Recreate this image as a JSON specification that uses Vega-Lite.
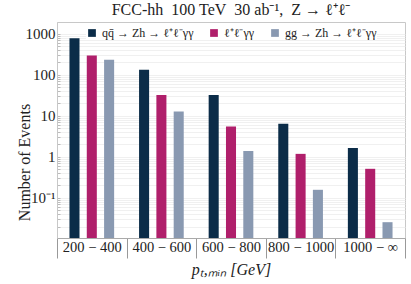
{
  "$schema": "https://vega.github.io/schema/vega-lite/v6.json",
  "autosize": {"type": "none"},
  "padding": {"left": 57, "top": 22, "right": 6, "bottom": 46},
  "width": 348,
  "height": 216,
  "title": {"text": "FCC-hh\u2002100 TeV\u200230 ab⁻¹,\u2002Z → ℓ⁺ℓ⁻", "font": "Liberation Serif", "fontSize": 16, "fontWeight": "normal", "color": "#222", "offset": 4},
  "config": {
    "view": {"stroke": "#c8c8c8"},
    "font": "Liberation Serif"
  },
  "data": {
    "values": [
      {"range": "200 − 400", "process": "A", "events": 780},
      {"range": "200 − 400", "process": "B", "events": 295},
      {"range": "200 − 400", "process": "C", "events": 232},
      {"range": "400 − 600", "process": "A", "events": 132},
      {"range": "400 − 600", "process": "B", "events": 32},
      {"range": "400 − 600", "process": "C", "events": 12.7},
      {"range": "600 − 800", "process": "A", "events": 32},
      {"range": "600 − 800", "process": "B", "events": 5.5},
      {"range": "600 − 800", "process": "C", "events": 1.38},
      {"range": "800 − 1000", "process": "A", "events": 6.4},
      {"range": "800 − 1000", "process": "B", "events": 1.18},
      {"range": "800 − 1000", "process": "C", "events": 0.157},
      {"range": "1000 − ∞", "process": "A", "events": 1.63},
      {"range": "1000 − ∞", "process": "B", "events": 0.51},
      {"range": "1000 − ∞", "process": "C", "events": 0.0255}
    ]
  },
  "mark": {"type": "bar"},
  "encoding": {
    "x": {
      "field": "range", "type": "nominal", "sort": ["200 − 400", "400 − 600", "600 − 800", "800 − 1000", "1000 − ∞"],
      "scale": {"paddingInner": 0, "paddingOuter": 0},
      "axis": {
        "title": "pₜ,ₘᵢₙ [GeV]", "titleFont": "Liberation Serif", "titleFontSize": 16, "titleFontWeight": "normal", "titleFontStyle": "italic", "titleColor": "#222", "titlePadding": 3,
        "labelAngle": 0, "labelFont": "Liberation Serif", "labelFontSize": 14.5, "labelColor": "#222", "labelPadding": -18,
        "tickBand": "extent", "tickSize": 20, "tickColor": "#999", "domainColor": "#aaa"
      }
    },
    "xOffset": {"field": "process", "type": "nominal", "scale": {"paddingInner": 0.42, "paddingOuter": 0.72}},
    "y": {
      "field": "events", "type": "quantitative", "stack": null,
      "scale": {"type": "log", "domain": [0.0105, 1930], "nice": false},
      "axis": {
        "title": "Number of Events", "titleFont": "Liberation Serif", "titleFontSize": 16, "titleFontWeight": "normal", "titleColor": "#222", "titleX": -33, "titleY": 140, "titleBaseline": "middle", "titleAlign": "center",
        "values": [0.02,0.03,0.04,0.05,0.06,0.07,0.08,0.09,0.1,0.2,0.3,0.4,0.5,0.6,0.7,0.8,0.9,1,2,3,4,5,6,7,8,9,10,20,30,40,50,60,70,80,90,100,200,300,400,500,600,700,800,900,1000],
        "labelExpr": "datum.value == 0.1 ? '10⁻¹' : (datum.value == 1 || datum.value == 10 || datum.value == 100 || datum.value == 1000) ? format(datum.value, 'd') : ''",
        "labelFont": "Liberation Serif", "labelFontSize": 15, "labelColor": "#222", "labelPadding": 5,
        "tickSize": -3, "tickColor": "#bbb", "domainColor": "#c8c8c8",
        "grid": true, "gridColor": "#ececec", "gridWidth": 0.8
      }
    },
    "y2": {"datum": 0.0105},
    "color": {
      "field": "process", "type": "nominal",
      "scale": {"domain": ["A", "B", "C"], "range": ["#0b2c48", "#b01f6b", "#8999b1"]},
      "legend": {
        "title": null, "orient": "none", "direction": "horizontal", "legendX": 29, "legendY": 5,
        "labelExpr": "datum.value == 'A' ? 'qq̄ → Zh → ℓ⁺ℓ⁻γγ' : datum.value == 'B' ? 'ℓ⁺ℓ⁻γγ' : 'gg → Zh → ℓ⁺ℓ⁻γγ'",
        "symbolType": "square", "symbolSize": 60, "symbolStrokeWidth": 0,
        "labelFont": "Liberation Serif", "labelFontSize": 12, "labelColor": "#222", "labelLimit": 200,
        "columnPadding": 14, "fillColor": "white"
      }
    }
  }
}
